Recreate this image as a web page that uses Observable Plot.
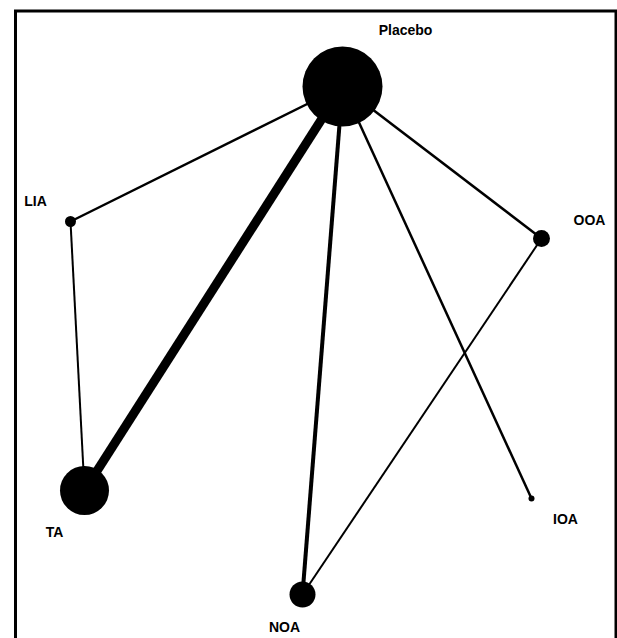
<!DOCTYPE html>
<html>
<head>
<meta charset="utf-8">
<script src="https://cdn.jsdelivr.net/npm/d3@7"></script>
<script src="https://cdn.jsdelivr.net/npm/@observablehq/plot@0.6"></script>
<style>
  html, body { margin: 0; padding: 0; background: #fff; }
  #chart svg { display: block; }
</style>
</head>
<body>
<div id="chart"></div>
<script>
// Nodes (treatments) of the network, layout positions and node sizes
const nodeNames = ["Placebo", "LIA", "OOA", "TA", "NOA", "IOA"];
const nodeX = [342, 70, 541, 84, 302, 531];
const nodeY = [86, 221, 238, 490, 594, 498];
const nodeSize = [40, 5.5, 8.5, 24.5, 13, 3];
const labelX = [405, 35, 589, 54, 284, 565];
const labelY = [30, 201, 220, 532, 627, 519];

// Edges (direct comparisons) and their weights
const edgeFrom = ["Placebo", "Placebo", "Placebo", "Placebo", "Placebo", "LIA", "OOA"];
const edgeTo   = ["LIA", "TA", "NOA", "IOA", "OOA", "TA", "NOA"];
const edgeWeight = [2.4, 9, 4, 2.5, 2.5, 2, 2];

const nodes = nodeNames.map((name, i) => ({
  name, x: nodeX[i], y: nodeY[i], r: nodeSize[i], lx: labelX[i], ly: labelY[i]
}));
const byName = Object.fromEntries(nodes.map(n => [n.name, n]));
const edges = edgeFrom.map((f, i) => ({
  x1: byName[f].x, y1: byName[f].y,
  x2: byName[edgeTo[i]].x, y2: byName[edgeTo[i]].y,
  w: edgeWeight[i]
}));

const chart = Plot.plot({
  width: 617,
  height: 638,
  margin: 0,
  x: { domain: [0, 617], range: [0, 617], axis: null },
  y: { domain: [0, 638], range: [0, 638], axis: null },
  r: { type: "identity" },
  style: { fontFamily: "Liberation Sans, Arial, sans-serif", background: "#fff" },
  marks: [
    Plot.frame({ stroke: "black", strokeWidth: 3, insetLeft: 15, insetTop: 10.5, insetRight: 1.5, insetBottom: -20 }),
    Plot.link(edges, { x1: "x1", y1: "y1", x2: "x2", y2: "y2", stroke: "black", strokeWidth: "w" }),
    Plot.dot(nodes, { x: "x", y: "y", r: "r", fill: "black", stroke: "none" }),
    Plot.text(nodes, { x: "lx", y: "ly", text: "name", fontSize: 14, fontWeight: "bold", fill: "black" })
  ]
});
document.getElementById("chart").appendChild(chart);
</script>
</body>
</html>
